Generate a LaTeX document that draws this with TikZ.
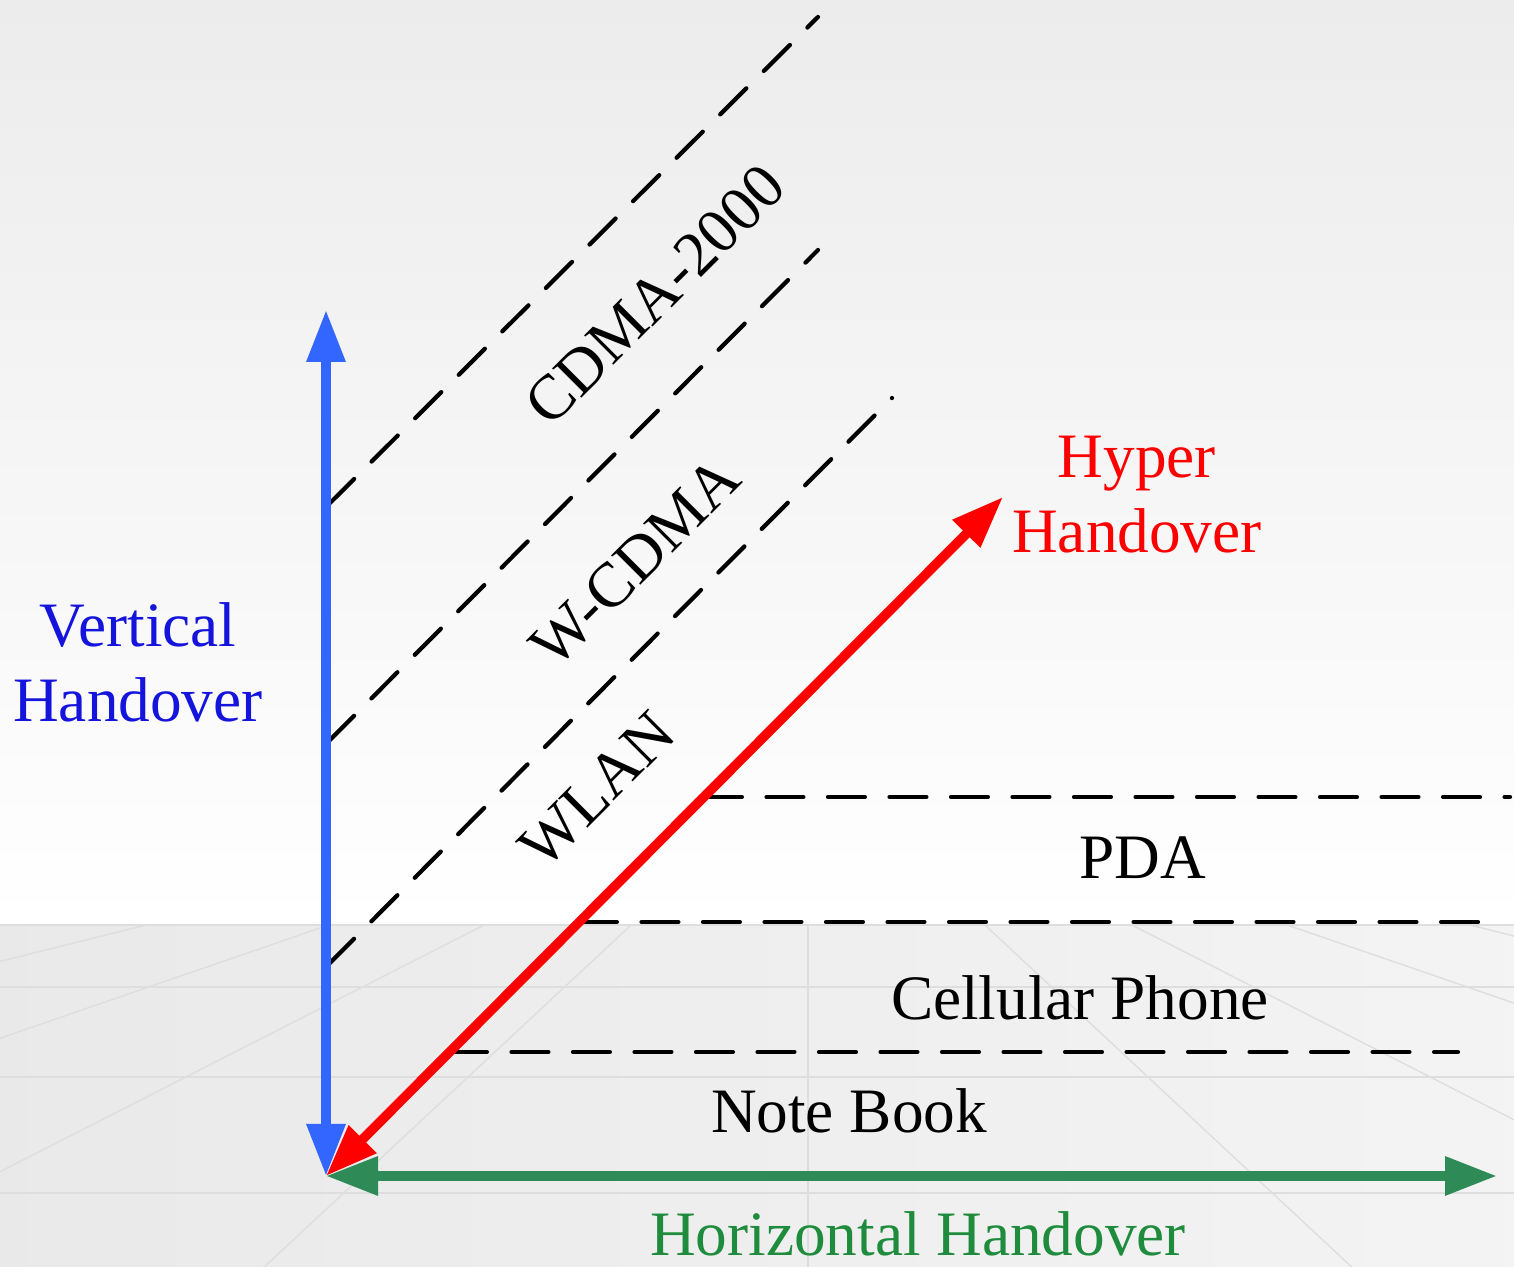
\documentclass[tikz,border=0pt]{standalone}
\usepackage{fontspec}
\setmainfont{Liberation Serif}
\usetikzlibrary{arrows.meta}

\definecolor{vblue}{RGB}{51,102,255}
\definecolor{vtext}{RGB}{20,20,220}
\definecolor{hgreen}{RGB}{46,139,87}
\definecolor{htext}{RGB}{30,140,60}
\definecolor{hred}{RGB}{255,0,0}
\definecolor{floorline}{RGB}{222,222,222}

\begin{document}
\begin{tikzpicture}[
    font=\fontsize{18}{21.3}\selectfont,
    axis/.style={#1, line width=2.7pt,
        {Triangle[length=5.2mm, width=3.7mm]}-{Triangle[length=5.2mm, width=3.7mm]}},
    net/.style={line width=1.2pt, line cap=round, dash pattern=on 10.5pt off 7pt},
    floorgrid/.style={floorline, line width=0.4pt}
]

    % Backdrop: wall and floor
    \useasboundingbox (0,0) rectangle (15.14,12.67);
    \shade[top color=gray!15, bottom color=white] (0,3.42) rectangle (15.14,12.67);
    \shade[left color=gray!17, right color=gray!9] (0,0) rectangle (15.14,3.42);
    \coordinate (vp) at (8.08,5.07);
    \begin{scope}
        \clip (0,0) rectangle (15.14,3.42);
        \foreach \a in {-14,-19,-27,-43,-90,-137,-153,-161,-166}
            \draw[floorgrid] (vp) -- ++(\a:25);
        \foreach \y in {3.42,2.80,1.90,0.74}
            \draw[floorgrid] (0,\y) -- (15.14,\y);
    \end{scope}

    % Coordinates
    \coordinate (origin)    at (3.26,0.91);
    \coordinate (v_top)     at (3.26,9.57);
    \coordinate (h_end)     at (14.97,0.91);
    \coordinate (hyper_end) at (10.03,7.70);

    \coordinate (cdma_s)  at (3.28,7.62);
    \coordinate (cdma_e)  at (8.18,12.50);
    \coordinate (wcdma_s) at (3.28,5.25);
    \coordinate (wcdma_e) at (8.18,10.17);
    \coordinate (wlan_s)  at (3.28,3.02);
    \coordinate (wlan_e)  at (8.92,8.69);

    \coordinate (pda_s)  at (7.05,4.70);
    \coordinate (pda_e)  at (15.10,4.70);
    \coordinate (cell_s) at (5.80,3.45);
    \coordinate (cell_e) at (15.00,3.45);
    \coordinate (book_s) at (4.50,2.15);
    \coordinate (book_e) at (14.58,2.15);

    % Network bands (diagonal)
    \draw[net] (cdma_s) -- (cdma_e);
    \draw[net] (wcdma_s) -- (wcdma_e);
    \draw[net] (wlan_s) -- (wlan_e);

    % Device bands (horizontal)
    \draw[net] (pda_s) -- (pda_e);
    \draw[net] (cell_s) -- (cell_e);
    \draw[net] (book_s) -- (book_e);

    % Handover axes
    \draw[axis=hgreen] (origin) -- (h_end);
    \draw[axis=vblue] (origin) -- (v_top);
    \draw[axis=hred] (origin) -- (hyper_end);

    % Labels
    \node[rotate=45] (cdma_lbl)  at (6.55,9.72) {CDMA-2000};
    \node[rotate=45] (wcdma_lbl) at (6.35,7.05) {W-CDMA};
    \node[rotate=45] (wlan_lbl)  at (5.97,4.77) {WLAN};
    \node (pda_lbl)  at (11.43,4.09) {PDA};
    \node (cell_lbl) at (10.80,2.69) {Cellular Phone};
    \node (book_lbl) at (8.49,1.56) {Note Book};

    \node[htext] (horiz_lbl) at (9.18,0.33) {Horizontal Handover};
    \node[hred, align=center] (hyper_lbl) at (11.37,7.72) {Hyper\\Handover};
    \node[vtext, align=center] (vert_lbl) at (1.38,6.05) {Vertical\\Handover};

\end{tikzpicture}
\end{document}
